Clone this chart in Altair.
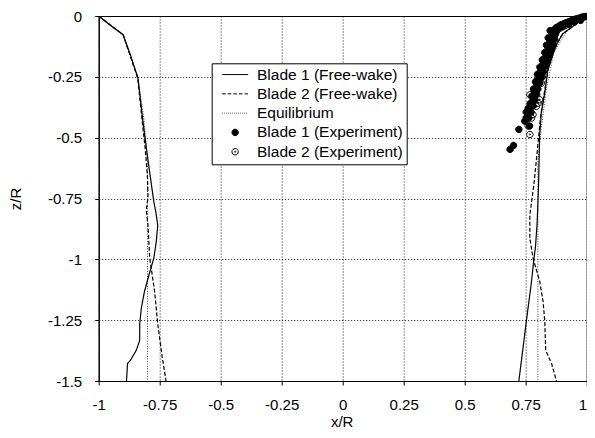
import altair as alt
import pandas as pd

SERIES = ["Blade 1 (Free-wake)", "Blade 2 (Free-wake)", "Equilibrium",
          "Blade 1 (Experiment)", "Blade 2 (Experiment)"]

X_TICKS = [-1, -0.75, -0.5, -0.25, 0, 0.25, 0.5, 0.75, 1]
Z_TICKS = [0, -0.25, -0.5, -0.75, -1, -1.25, -1.5]

# Blade 1 free-wake (solid)
b1_left_x = [-1, -0.95, -0.9, -0.87, -0.839, -0.819, -0.805, -0.79, -0.774, -0.765, -0.758,
             -0.764, -0.774, -0.79, -0.812, -0.825, -0.832, -0.832, -0.846, -0.87, -0.882, -0.886]
b1_left_z = [0, -0.04, -0.077, -0.16, -0.256, -0.43, -0.54, -0.65, -0.764, -0.81, -0.86,
             -0.927, -0.995, -1.05, -1.13, -1.198, -1.266, -1.333, -1.374, -1.415, -1.428, -1.5]
b1_right_x = [1, 0.96, 0.92, 0.902, 0.88, 0.862, 0.841, 0.828, 0.814, 0.807, 0.803,
              0.797, 0.79, 0.784, 0.774, 0.753, 0.722]
b1_right_z = [0, -0.03, -0.06, -0.073, -0.11, -0.154, -0.222, -0.317, -0.398, -0.492, -0.683,
              -0.85, -0.95, -0.995, -1.089, -1.252, -1.5]

# Blade 2 free-wake (dashed)
b2_left_x = [-1, -0.9, -0.84, -0.822, -0.81, -0.80, -0.798, -0.805, -0.798, -0.791, -0.771,
             -0.758, -0.74, -0.724]
b2_left_z = [0, -0.077, -0.256, -0.43, -0.54, -0.66, -0.744, -0.80, -0.859, -0.995, -1.13,
             -1.266, -1.40, -1.5]
b2_right_x = [1, 0.96, 0.92, 0.902, 0.88, 0.862, 0.841, 0.826, 0.81, 0.798, 0.785, 0.767,
              0.767, 0.78, 0.807, 0.821, 0.828, 0.832, 0.856, 0.876]
b2_right_z = [0, -0.03, -0.06, -0.073, -0.11, -0.154, -0.222, -0.317, -0.42, -0.55, -0.68,
              -0.818, -0.913, -0.995, -1.089, -1.171, -1.252, -1.374, -1.428, -1.5]

# Equilibrium (dotted)
eq_left_x = [-1, -0.9, -0.84, -0.815, -0.80, -0.80]
eq_left_z = [0, -0.077, -0.25, -0.42, -0.6, -1.5]
eq_right_x = [1, 0.92, 0.865, 0.835, 0.815, 0.80, 0.80]
eq_right_z = [0, -0.06, -0.15, -0.3, -0.45, -0.6, -1.5]

# Experiment, blade 1 (filled)
exp1_x = [0.995, 0.985, 0.975, 0.965, 0.955, 0.945, 0.935, 0.925, 0.915, 0.905, 0.895, 0.885,
          0.875, 0.868, 0.862, 0.858, 0.855, 0.852, 0.848, 0.845, 0.842, 0.838, 0.833, 0.828,
          0.822, 0.816, 0.81, 0.805, 0.8, 0.795, 0.79, 0.786, 0.782, 0.778, 0.772, 0.766, 0.76,
          0.752, 0.746, 0.766, 0.722, 0.7, 0.686,
          0.975, 0.95, 0.925, 0.9, 0.88, 0.872, 0.868, 0.862, 0.856, 0.848, 0.84, 0.832, 0.822,
          0.815, 0.808, 0.8, 0.795, 0.788, 0.78, 0.772, 0.762,
          0.85, 0.842, 0.835, 0.828, 0.818, 0.808, 0.798, 0.79, 0.782, 0.775, 0.768, 0.76, 0.752]
exp1_z = [-0.002, -0.004, -0.006, -0.01, -0.012, -0.016, -0.02, -0.024, -0.028, -0.032, -0.036,
          -0.042, -0.048, -0.055, -0.065, -0.075, -0.085, -0.098, -0.11, -0.122, -0.135, -0.148,
          -0.162, -0.178, -0.195, -0.212, -0.228, -0.245, -0.262, -0.28, -0.298, -0.315, -0.332,
          -0.35, -0.368, -0.385, -0.4, -0.418, -0.432, -0.452, -0.466, -0.532, -0.548,
          -0.018, -0.025, -0.035, -0.045, -0.058, -0.075, -0.095, -0.115, -0.138, -0.16, -0.182,
          -0.205, -0.23, -0.252, -0.275, -0.3, -0.322, -0.345, -0.37, -0.395, -0.42,
          -0.06, -0.09, -0.12, -0.15, -0.18, -0.21, -0.24, -0.27, -0.3, -0.33, -0.36, -0.38, -0.395]

# Experiment, blade 2 (open)
exp2_x = [0.99, 0.97, 0.95, 0.93, 0.91, 0.89, 0.875, 0.866, 0.86, 0.855, 0.848, 0.84, 0.832,
          0.825, 0.818, 0.814, 0.794, 0.767, 0.807, 0.801, 0.794, 0.78, 0.774, 0.76, 0.767]
exp2_z = [-0.003, -0.012, -0.02, -0.03, -0.04, -0.05, -0.065, -0.085, -0.105, -0.125, -0.15,
          -0.175, -0.2, -0.225, -0.25, -0.276, -0.3, -0.324, -0.344, -0.358, -0.371, -0.405,
          -0.419, -0.452, -0.487]

rows = []
def add(series, side, xs, zs):
    for i, (x, z) in enumerate(zip(xs, zs)):
        rows.append({"series": series, "side": side, "idx": i, "x": x, "z": z})

add(SERIES[0], "L", b1_left_x, b1_left_z)
add(SERIES[0], "R", b1_right_x, b1_right_z)
add(SERIES[1], "L", b2_left_x, b2_left_z)
add(SERIES[1], "R", b2_right_x, b2_right_z)
add(SERIES[2], "L", eq_left_x, eq_left_z)
add(SERIES[2], "R", eq_right_x, eq_right_z)
lines_df = pd.DataFrame(rows)

exp_df = pd.DataFrame(
    [{"series": SERIES[3], "x": x, "z": z} for x, z in zip(exp1_x, exp1_z)]
    + [{"series": SERIES[4], "x": x, "z": z} for x, z in zip(exp2_x, exp2_z)]
)

# legend / point glyphs (styles)
def seg_path(segs):
    return "".join(f"M{a},0L{b},0" for a, b in segs)

solid_path = "M-13,0L13,0"
dash_path = seg_path([(-13, -9.5), (-7.4, -3.9), (-1.8, 1.7), (3.8, 7.3), (9.4, 12.9)])
dot_path = seg_path([(-13 + 2 * i, -12.2 + 2 * i) for i in range(13)])
r = 3.2
circ = f"M{-r},0A{r},{r},0,1,1,{r},0A{r},{r},0,1,1,{-r},0Z"
c = 0.6
odot = circ + f"M{-c},0A{c},{c},0,1,1,{c},0A{c},{c},0,1,1,{-c},0Z"
SHAPES = [solid_path, dash_path, dot_path, circ, odot]
FILLS = ["transparent", "transparent", "transparent", "black", "transparent"]
STROKES = ["black", "black", "#444444", "black", "black"]

xscale = alt.Scale(domain=[-1, 1], nice=False, zero=False)
yscale = alt.Scale(domain=[-1.5, 0], nice=False, zero=False)

PLOT_H = 365

x_axis = alt.Axis(values=X_TICKS, labelExpr="toString(datum.value)", title="x/R",
                  titleX=243, titleY=33, titleBaseline="top", labelPadding=12,
                  labelAlign=alt.condition("datum.value == 1", alt.value("right"), alt.value("center")))
y_axis = alt.Axis(values=Z_TICKS, labelExpr="toString(datum.value)", title="z/R",
                  titleX=-75, titleY=PLOT_H / 2, titleBaseline="bottom", labelPadding=13)

X = alt.X("x:Q", scale=xscale, axis=x_axis)
Y = alt.Y("z:Q", scale=yscale, axis=y_axis)

def line_layer(series, color, width, dash=None):
    kw = dict(color=color, strokeWidth=width, clip=True)
    if dash:
        kw["strokeDash"] = dash
    return (alt.Chart(lines_df)
            .transform_filter(alt.datum.series == series)
            .mark_line(**kw)
            .encode(x=X, y=Y, detail="side:N", order="idx:Q"))

legend = alt.Legend(title=None, orient="none", legendX=113, legendY=47.3,
                    strokeColor="black", fillColor="white", padding=3.5, rowPadding=2.3,
                    symbolOffset=12.2, labelOffset=14.1, labelFontSize=15.5,
                    labelExpr="datum.label + '\u00a0\u00a0\u00a0'",
                    labelFont="Liberation Sans", labelColor="black",
                    symbolSize=4, symbolStrokeWidth=1)

points = (alt.Chart(exp_df)
          .mark_point(size=4, opacity=1, strokeWidth=1)
          .encode(
              x=X, y=Y,
              shape=alt.Shape("series:N", scale=alt.Scale(domain=SERIES, range=SHAPES), legend=legend),
              fill=alt.Fill("series:N", scale=alt.Scale(domain=SERIES, range=FILLS), legend=legend),
              stroke=alt.Stroke("series:N", scale=alt.Scale(domain=SERIES, range=STROKES), legend=legend),
          ))

chart = alt.layer(
    line_layer(SERIES[2], "#444444", 1, [1, 1.5]),
    line_layer(SERIES[0], "black", 1.2),
    line_layer(SERIES[1], "black", 1.2, [4, 2]),
    points,
).properties(
    width=488, height=PLOT_H,
    padding={"left": 90.7, "top": 8, "right": 0.3, "bottom": 49},
    autosize="none",
).configure(
    font="Liberation Sans",
).configure_view(
    stroke="black", strokeWidth=1,
).configure_axis(
    grid=True, gridColor="black", gridDash=[1, 2], gridOpacity=0.9, gridWidth=1,
    domainColor="black", tickColor="black", tickSize=4,
    labelFontSize=15, labelColor="black", labelFont="Liberation Sans",
    titleFontSize=15, titleFont="Liberation Sans", titleColor="black", titleFontWeight="normal",
)

chart.save("out.html", embed_options={"renderer": "svg", "actions": False})
